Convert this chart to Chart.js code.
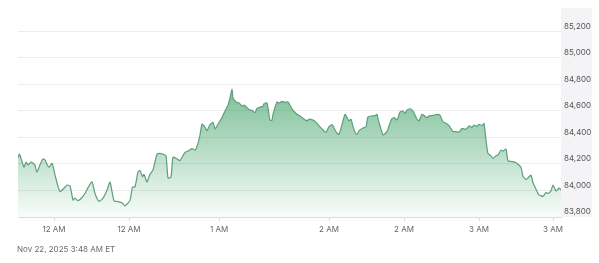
<!DOCTYPE html>
<html><head><meta charset="utf-8">
<script src="https://cdn.jsdelivr.net/npm/chart.js@4/dist/chart.umd.min.js"></script>
<style>
html,body{margin:0;padding:0;background:#fff;}
#wrap{position:relative;width:599px;height:263px;}
#date{position:absolute;left:17px;top:244px;font:8px Inter, "Noto Sans", sans-serif;color:#6b6b6b;white-space:nowrap;}
</style></head><body>
<div id="wrap"><canvas id="c" width="599" height="263"></canvas><div id="date">Nov 22, 2025 3:48 AM ET</div></div>
<script>
// time position (minutes from start of window) and price
const times = [0,1.5,4,6,8,10,13,15,17,19,22,25,27,29,31,34,35,39,42,45,49,52,55,57,60,64,67,70,74,77,81,85,89,92,96,100,104,107,112,114.5,117,120,122,124.5,126,129,131.5,135,139,141.5,145,148,150,153,155,159,162,167,170,174,177,179.5,182,184,187,189,192,195,197,200,204,207,210,212,214,215,218,221,224,226,229,231,235,237,239,242,245,246,249,252,254,255,259,261,264,267,270,272,275,279,282,285,289,291,295,298,301,305,308,311,314,316,319,321,324,327,329,331,333,335,337,339,341,345,348,350,354,357,359,360,362,365,369,371,374,376,379,382,385,387,389,392,395,399,401,404,406,409,411,415,419,422,425,428,431,435,438,441,444,447,450,451,454,456,459,461,464,466,468,470,473,475,478,480,483,485,488,490,494,497,500,503,505,508,510,513,515,518,521,525,528,530,533,535,538,541,543];
const prices = [84247,84273,84218,84174,84213,84193,84213,84205,84188,84139,84193,84238,84230,84198,84174,84205,84181,84058,83992,84009,84041,84034,83928,83943,83923,83947,83977,84021,84065,83977,83918,83943,84002,84063,83923,83916,83908,83884,83927,84026,84026,84140,84149,84104,84122,84063,84115,84155,84273,84279,84273,84262,84095,84100,84251,84238,84225,84288,84297,84316,84304,84343,84417,84500,84476,84451,84496,84513,84463,84500,84549,84599,84643,84697,84765,84697,84667,84660,84636,84643,84623,84611,84599,84586,84618,84628,84636,84653,84660,84530,84530,84574,84667,84660,84672,84664,84667,84642,84603,84574,84562,84544,84525,84537,84530,84513,84488,84456,84439,84481,84496,84471,84432,84422,84496,84574,84549,84525,84537,84481,84439,84422,84451,84471,84481,84555,84562,84564,84574,84542,84488,84419,84444,84488,84542,84549,84532,84591,84599,84581,84606,84616,84599,84537,84525,84574,84566,84549,84562,84566,84574,84566,84518,84507,84488,84444,84444,84439,84468,84461,84476,84488,84476,84493,84483,84498,84488,84505,84378,84279,84262,84242,84262,84267,84304,84297,84311,84223,84218,84213,84198,84174,84107,84083,84095,84115,84058,84009,83967,83956,83984,83977,83997,84041,83997,84017,84004];
const yTicks = [83800,84000,84200,84400,84600,84800,85000,85200];
const xTickTimes = [36,111,201,311,386,461,535];
const xTickLabels = ['12 AM','12 AM','1 AM','2 AM','2 AM','3 AM','3 AM'];

const panel = {
  id:'panel',
  beforeDraw(chart){
    const ca = chart.chartArea, c = chart.ctx;
    c.save();
    c.fillStyle = '#f4f4f6';
    c.fillRect(ca.right, ca.top, 31, ca.bottom - ca.top);
    c.restore();
  }
};

new Chart(document.getElementById('c'), {
  type:'line',
  data:{
    datasets:[{
      data: times.map((t,i)=>({x:t, y:prices[i]})),
      borderColor:'#5c9f7a',
      borderWidth:1.2,
      pointRadius:0,
      tension:0.2,
      fill:'start',
      backgroundColor(ctx){
        const ch = ctx.chart, ca = ch.chartArea;
        if(!ca) return 'rgba(70,165,110,0.4)';
        const g = ch.ctx.createLinearGradient(0, ca.top, 0, ca.bottom);
        g.addColorStop(0, 'rgba(60,160,100,0.85)');
        g.addColorStop(0.4, 'rgba(60,160,100,0.65)');
        g.addColorStop(1, 'rgba(60,160,100,0.03)');
        return g;
      }
    }]
  },
  options:{
    responsive:false,
    animation:false,
    devicePixelRatio:1,
    layout:{padding:{left:18,right:7,top:3,bottom:26}},
    plugins:{legend:{display:false},tooltip:{enabled:false}},
    scales:{
      x:{
        type:'linear', min:0, max:543,
        afterBuildTicks(s){ s.ticks = xTickTimes.map(v=>({value:v})); },
        afterFit(s){ s.height = 20; },
        ticks:{
          autoSkip:false, maxRotation:0, padding:4,
          color:'#666', font:{family:'Inter, "Noto Sans", sans-serif', size:8},
          callback(v,i){ return xTickLabels[i]; }
        },
        grid:{drawOnChartArea:false, drawTicks:true, tickLength:4, color:'#dcdcdc'},
        border:{display:true, color:'#dcdcdc'}
      },
      y:{
        position:'right', min:83800, max:85377,
        afterBuildTicks(s){ s.ticks = yTicks.map(v=>({value:v})); },
        afterFit(s){ s.width = 31; },
        ticks:{
          padding:3, labelOffset:-5,
          color:'#555', font:{family:'Inter, "Noto Sans", sans-serif', size:8},
          callback(v){ return v.toLocaleString('en-US'); }
        },
        grid:{drawTicks:false, color:'#ececec'},
        border:{display:false}
      }
    }
  },
  plugins:[panel]
});
</script>
</body></html>
